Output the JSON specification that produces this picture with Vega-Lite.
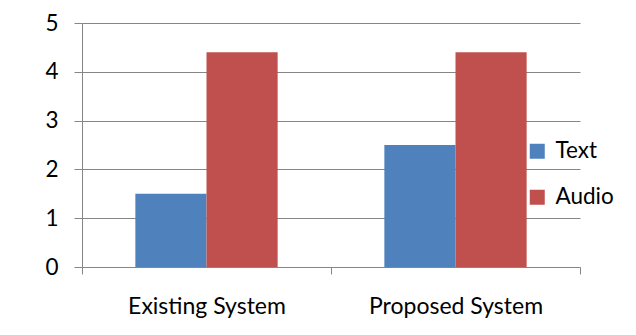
{
  "$schema": "https://vega.github.io/schema/vega-lite/v6.json",
  "width": 498,
  "height": 244,
  "autosize": "none",
  "padding": {"left": 82, "top": 23, "right": 56, "bottom": 68},
  "background": "white",
  "data": {
    "values": [
      {"system": "Existing System", "series": "Text", "value": 1.5},
      {"system": "Existing System", "series": "Audio", "value": 4.4},
      {"system": "Proposed System", "series": "Text", "value": 2.5},
      {"system": "Proposed System", "series": "Audio", "value": 4.4}
    ]
  },
  "mark": {"type": "bar"},
  "encoding": {
    "x": {
      "field": "system", "type": "nominal", "title": null,
      "scale": {"paddingInner": 0, "paddingOuter": 0},
      "axis": {"labelAngle": 0, "tickBand": "extent", "tickSize": 7, "labelPadding": 21,
               "domainColor": "#868686", "tickColor": "#868686", "labelColor": "black",
               "labelFontSize": 23, "labelFont": "Lato"}
    },
    "xOffset": {"field": "series", "type": "nominal", "sort": ["Text", "Audio"],
                "scale": {"paddingInner": 0, "paddingOuter": 0.75}},
    "y": {
      "field": "value", "type": "quantitative", "title": null,
      "scale": {"domain": [0, 5]},
      "axis": {"values": [0, 1, 2, 3, 4, 5], "tickSize": 8, "labelPadding": 16,
               "domainColor": "#868686", "tickColor": "#868686", "gridColor": "#868686",
               "gridOpacity": 1, "labelColor": "black", "labelFontSize": 22.5, "labelFont": "Lato"}
    },
    "color": {
      "field": "series", "type": "nominal", "sort": ["Text", "Audio"],
      "scale": {"domain": ["Text", "Audio"], "range": ["#4F81BD", "#C0504D"]},
      "legend": {"title": null, "orient": "none", "legendX": 444, "legendY": 117,
                 "symbolType": "square", "symbolSize": 225, "symbolStrokeWidth": 0,
                 "labelFontSize": 22.5, "labelFont": "Lato", "labelColor": "black",
                 "rowPadding": 23, "labelOffset": 7}
    }
  },
  "config": {"view": {"stroke": null}}
}
